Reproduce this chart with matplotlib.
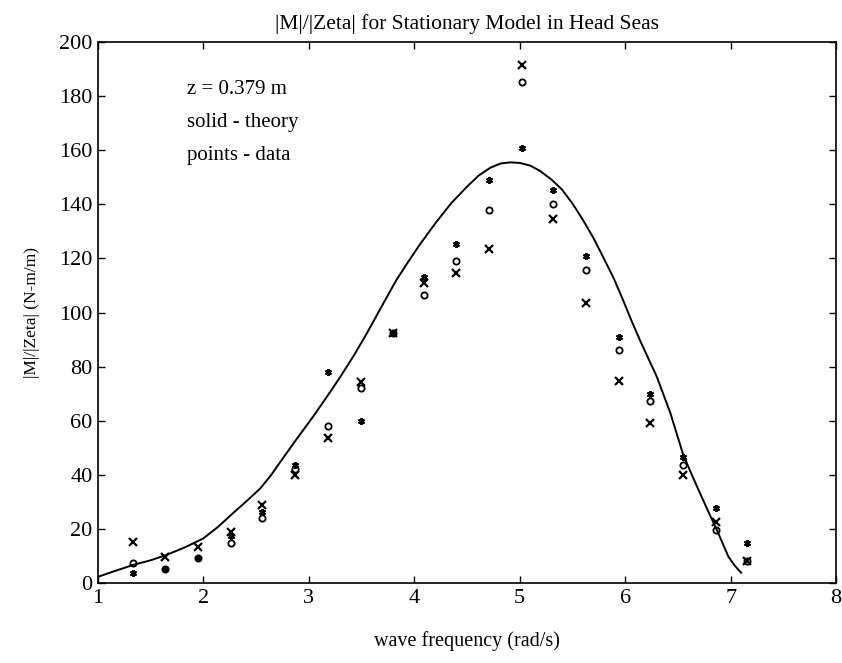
import numpy as np
import matplotlib
matplotlib.use("Agg")
import matplotlib.pyplot as plt

# ====== data ======
freq = [1.33, 1.64, 1.95, 2.26, 2.56, 2.87, 3.18, 3.49, 3.80, 4.09,
        4.40, 4.71, 5.02, 5.32, 5.63, 5.94, 6.24, 6.55, 6.86, 7.16]
data_star = [3.6, 5.2, 9.4, 17.4, 26.1, 43.5, 77.9, 60.0, 92.3, 113.2,
             125.2, 149.0, 160.7, 145.3, 120.9, 90.8, 69.8, 46.5, 27.6, 14.7]
data_circ = [7.3, 5.2, 9.4, 14.9, 23.9, 42.0, 58.2, 72.0, 92.3, 106.5,
             119.0, 138.0, 185.3, 140.0, 115.7, 86.0, 67.4, 43.7, 19.6, 8.1]
data_cross = [15.3, 9.5, 13.4, 19.0, 28.8, 40.0, 53.5, 74.4, 92.3, 110.8,
              114.5, 123.5, 191.5, 134.5, 103.4, 74.8, 59.3, 39.9, 22.7, 8.1]

# solid theory curve, traced point by point
theory_w = [1.00, 1.15, 1.335, 1.50, 1.65, 1.82, 2.00, 2.14, 2.28, 2.41,
            2.54, 2.64, 2.73, 2.88, 3.04, 3.17, 3.30, 3.43, 3.55, 3.68,
            3.83, 3.94, 4.05, 4.20, 4.35, 4.50, 4.61, 4.72, 4.82, 4.91,
            5.00, 5.10, 5.19, 5.30, 5.40, 5.50, 5.60, 5.70, 5.79, 5.89,
            5.98, 6.06, 6.14, 6.22, 6.30, 6.43, 6.55, 6.63, 6.71, 6.79,
            6.87, 6.93, 6.98, 7.04, 7.10]
theory_M = [2.3, 4.3, 6.7, 8.4, 10.4, 13.1, 16.5, 20.8, 25.8, 30.3,
            35.0, 39.8, 44.8, 53.0, 61.5, 68.8, 76.3, 84.3, 92.3, 101.5,
            112.0, 118.6, 125.0, 133.0, 140.4, 146.5, 150.6, 153.5, 155.1, 155.5,
            155.3, 154.3, 152.4, 149.2, 145.5, 140.3, 134.2, 127.5, 120.6, 112.8,
            104.6, 97.0, 89.8, 83.0, 76.3, 62.7, 47.5, 40.2, 33.2, 26.3,
            19.6, 14.2, 9.7, 6.4, 3.8]

annot_lines = ["z = 0.379 m", "solid - theory", "points - data"]

# ====== style ======
plt.rcParams['font.family'] = ['Liberation Serif', 'DejaVu Serif']

fig = plt.figure(figsize=(8.42, 6.63), dpi=100)
ax = fig.add_axes([98 / 842, 1 - 583 / 663, (836 - 98) / 842, (583 - 42) / 663])

ax.plot(theory_w, theory_M, color='black', linewidth=1.4)
ax.plot(freq, data_cross, linestyle='none', marker='x', color='black',
        markersize=6, markeredgewidth=1.6)
ax.plot(freq, data_circ, linestyle='none', marker='o', color='black',
        markersize=4.5, markerfacecolor='none', markeredgewidth=1.3)
ax.plot(freq, data_star, linestyle='none', marker=(6, 2, 0), color='black',
        markersize=5, markeredgewidth=1.4)

for i, txt in enumerate(annot_lines):
    ax.text(1.84, 182.6 - 12.2 * i, txt, fontsize=15, ha='left', va='center')

ax.set_xlim(1, 8)
ax.set_ylim(0, 200)
ax.set_xticks(range(1, 9))
ax.set_yticks(range(0, 201, 20))
ax.tick_params(direction='in', top=True, right=True, length=5, width=1,
               labelsize=16, pad=4)
for s in ax.spines.values():
    s.set_linewidth(1.2)

ax.set_title('|M|/|Zeta| for Stationary Model in Head Seas', fontsize=15.5, pad=9)
ax.set_xlabel('wave frequency (rad/s)', fontsize=14.5, labelpad=17)
ax.set_ylabel('|M|/|Zeta| (N-m/m)', fontsize=12.5, labelpad=14)

fig.savefig('out.png', dpi=100)
